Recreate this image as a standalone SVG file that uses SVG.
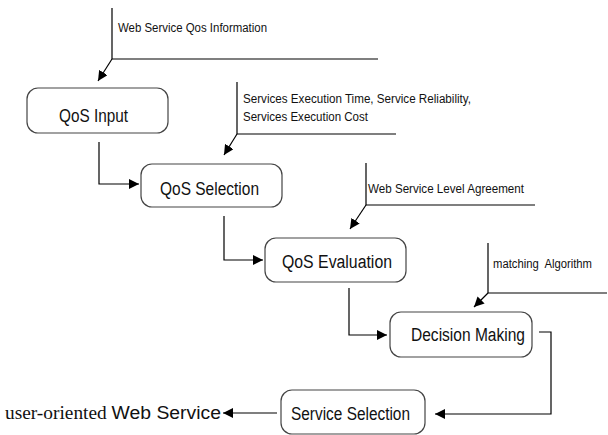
<svg xmlns="http://www.w3.org/2000/svg" width="608" height="435" viewBox="0 0 608 435">
<defs>
<marker id="ah" viewBox="0 0 10 10" refX="10" refY="5" markerWidth="10" markerHeight="10" markerUnits="userSpaceOnUse" orient="auto">
<path d="M0,0 L10,5 L0,10 z" fill="#000"/>
</marker>
</defs>
<style>
.box{fill:#fff;stroke:#444;stroke-width:1.2}
.lbl{font-family:"Liberation Sans",Arial,sans-serif;font-size:18px;fill:#111}
.note{font-family:"Liberation Sans",Arial,sans-serif;font-size:12.5px;fill:#111}
.ln{fill:none;stroke:#000;stroke-width:1.2}
.arr{fill:none;stroke:#000;stroke-width:1.2;marker-end:url(#ah)}
</style>
<rect width="608" height="435" fill="#fff"/>
<g id="note-qos-info">
<path class="ln" d="M112,8 V59 H378"/>
<text class="note" x="118" y="32" textLength="149" lengthAdjust="spacingAndGlyphs">Web Service Qos Information</text>
</g>
<g id="note-metrics">
<path class="ln" d="M237,82 V134 H396"/>
<text class="note" x="243" y="103" textLength="228" lengthAdjust="spacingAndGlyphs">Services Execution Time, Service Reliability,</text>
<text class="note" x="243" y="121" textLength="125" lengthAdjust="spacingAndGlyphs">Services Execution Cost</text>
</g>
<g id="note-sla">
<path class="ln" d="M366,163 V205 H535"/>
<text class="note" x="368" y="193" textLength="156" lengthAdjust="spacingAndGlyphs">Web Service Level Agreement</text>
</g>
<g id="note-matching">
<path class="ln" d="M488,243 V293 H607"/>
<text class="note" x="493" y="268" textLength="99" lengthAdjust="spacingAndGlyphs" xml:space="preserve" style="white-space:pre">matching  Algorithm</text>
</g>
<g id="qos-input">
<rect class="box" x="27" y="88" width="141" height="45" rx="11"/>
<text class="lbl" x="59" y="122" textLength="69" lengthAdjust="spacingAndGlyphs">QoS Input</text>
</g>
<g id="qos-selection">
<rect class="box" x="141" y="164" width="141" height="43" rx="11"/>
<text class="lbl" x="160" y="195" textLength="99" lengthAdjust="spacingAndGlyphs">QoS Selection</text>
</g>
<g id="qos-evaluation">
<rect class="box" x="265" y="238" width="141" height="44" rx="11"/>
<text class="lbl" x="282" y="268" textLength="110" lengthAdjust="spacingAndGlyphs">QoS Evaluation</text>
</g>
<g id="decision-making">
<rect class="box" x="390" y="312" width="142" height="45" rx="11"/>
<text class="lbl" x="411" y="341" textLength="114" lengthAdjust="spacingAndGlyphs">Decision Making</text>
</g>
<g id="service-selection">
<rect class="box" x="281" y="390" width="144" height="44" rx="11"/>
<text class="lbl" x="291" y="420" textLength="119" lengthAdjust="spacingAndGlyphs">Service Selection</text>
</g>
<g id="output-label">
<text x="5" y="419" fill="#111" textLength="216" lengthAdjust="spacingAndGlyphs"><tspan font-family="'Liberation Serif','Noto Sans CJK JP',serif" font-size="18">user-oriented </tspan><tspan font-family="'Liberation Sans',Arial,sans-serif" font-size="18">Web Service</tspan></text>
</g>
<g id="connectors">
<path class="arr" d="M112,59 L98,81"/>
<path class="arr" d="M237,134 L224,155"/>
<path class="arr" d="M366,205 L350,229"/>
<path class="arr" d="M488,293 L474,307"/>
<path class="arr" d="M99,142 V184 H139"/>
<path class="arr" d="M224,216 V260 H263"/>
<path class="arr" d="M349,288 V335 H387"/>
<path class="arr" d="M539,332 H551 V414 H435"/>
<path class="arr" d="M277,413 H223"/>
</g>
</svg>
